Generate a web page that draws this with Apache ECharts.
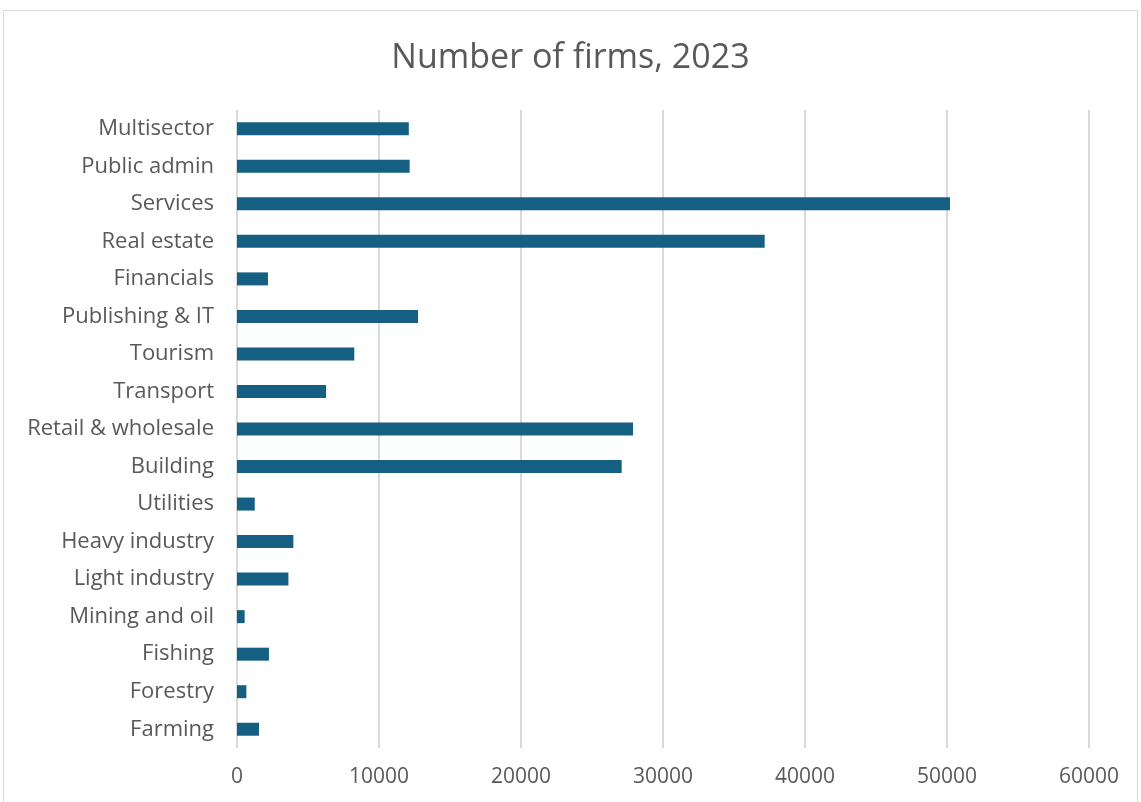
<!DOCTYPE html>
<html>
<head>
<meta charset="utf-8">
<script src="https://cdn.jsdelivr.net/npm/echarts@6/dist/echarts.min.js"></script>
<style>
html,body{margin:0;padding:0;background:#fff;}
#frame{position:absolute;left:3px;top:10px;width:1135px;height:800px;border:1px solid #d9d9d9;box-sizing:border-box;}
#chart{position:absolute;left:0;top:0;width:1141px;height:802px;}
</style>
</head>
<body>
<div id="frame"></div>
<div id="chart"></div>
<script>
const categories = ["Multisector","Public admin","Services","Real estate","Financials","Publishing & IT","Tourism","Transport","Retail & wholesale","Building","Utilities","Heavy industry","Light industry","Mining and oil","Fishing","Forestry","Farming"];
const firms = [12100,12160,50210,37160,2180,12750,8260,6270,27890,27090,1250,3970,3620,540,2250,660,1550];
const xTicks = [0,10000,20000,30000,40000,50000,60000];

const chart = echarts.init(document.getElementById('chart'));
const font = '"Open Sans", "Noto Sans", sans-serif';
chart.setOption({
  animation:false,
  title:{text:'Number of firms, 2023',left:'center',top:36,textStyle:{fontFamily:font,fontSize:34,fontWeight:'normal',color:'#595959'}},
  grid:{left:237,right:52,top:110,bottom:54,containLabel:false},
  xAxis:{type:'value',min:xTicks[0],max:xTicks[xTicks.length-1],interval:10000,
    axisLine:{show:false},axisTick:{show:false},
    splitLine:{show:true,lineStyle:{color:'#d9d9d9',width:2}},
    axisLabel:{margin:19,fontFamily:font,fontSize:21,color:'#595959',formatter:v=>String(v)}},
  yAxis:{type:'category',inverse:true,data:categories,
    axisLine:{show:false},axisTick:{show:false},
    axisLabel:{margin:23,fontFamily:font,fontSize:22,color:'#595959'}},
  series:[{type:'bar',data:firms,barWidth:13,itemStyle:{color:'#156082'}}]
});
</script>
</body>
</html>
